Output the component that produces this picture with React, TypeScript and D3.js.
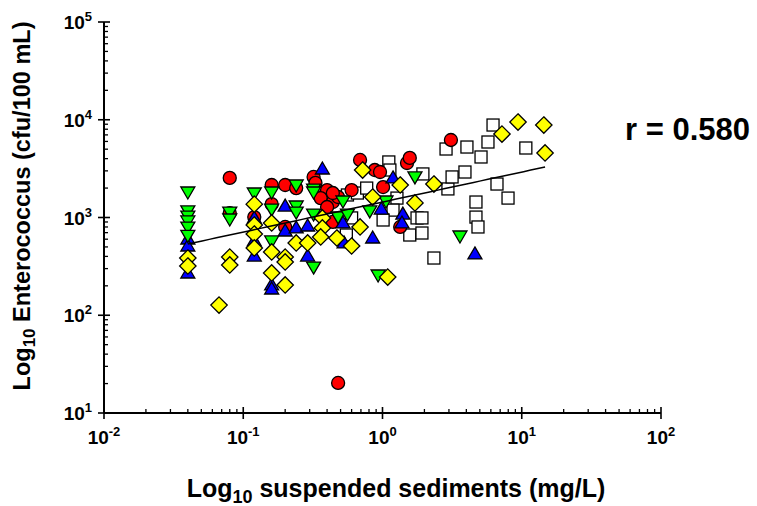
import React from "react";
import * as d3 from "d3";

// ---- data (x: suspended sediments mg/L, y: Enterococcus cfu/100 mL) ----
const squares: [number, number][] = [
  [0.56, 1700], [0.66, 1780], [0.77, 2000], [1.11, 3700], [1.13, 3060], [1.27, 1580],
  [1.19, 1190], [1.01, 943], [0.55, 662], [0.6, 990], [1.77, 990], [1.57, 662],
  [1.92, 694], [1.92, 990], [1.95, 2790], [2.86, 5020], [2.95, 1960], [3.16, 2600],
  [3.91, 2920], [4.04, 5260], [5.72, 5920], [5.1, 4160], [6.22, 8830], [10.7, 5140],
  [6.64, 2200], [7.97, 1580], [4.69, 1440], [4.69, 1010], [4.85, 800], [2.34, 385],
];
const circles: [number, number][] = [
  [0.08, 2540], [0.12, 1010], [0.08, 1110], [0.16, 2150], [0.16, 1370], [0.2, 2150],
  [0.2, 800], [0.24, 2000], [0.32, 2600], [0.33, 2260], [0.37, 1620], [0.4, 1910],
  [0.36, 1580], [0.44, 1440], [0.4, 1280], [0.48, 1620], [0.44, 1780], [0.44, 900],
  [0.6, 1910], [0.69, 3880], [0.88, 3060], [0.96, 2920], [1.01, 2050], [1.34, 800],
  [1.5, 3610], [1.57, 4070], [3.1, 6210], [0.48, 20.3],
];
const upTriangles: [number, number][] = [
  [0.04, 617], [0.04, 523], [0.04, 277], [0.12, 1010], [0.12, 589], [0.12, 413],
  [0.16, 209], [0.16, 190], [0.2, 1340], [0.2, 745], [0.24, 800], [0.29, 838],
  [0.29, 413], [0.37, 3210], [0.52, 900], [0.53, 562], [0.85, 632], [0.98, 1250],
  [1.19, 2600], [1.4, 1110], [1.38, 900], [4.61, 434],
];
const downTriangles: [number, number][] = [
  [0.04, 1780], [0.04, 1140], [0.04, 1010], [0.04, 900], [0.04, 780], [0.04, 640],
  [0.08, 1110], [0.08, 943], [0.12, 1740], [0.16, 1780], [0.16, 1190], [0.16, 562],
  [0.24, 2100], [0.24, 1280], [0.24, 1110], [0.32, 1910], [0.32, 1780], [0.32, 1060],
  [0.32, 304], [0.48, 990], [0.52, 1440], [0.56, 1060], [0.81, 1140], [1.06, 1440],
  [1.71, 2540], [3.6, 632], [0.93, 252],
];
const diamonds: [number, number][] = [
  [0.04, 385], [0.04, 319], [0.067, 127], [0.08, 394], [0.08, 327], [0.12, 1370],
  [0.12, 838], [0.12, 678], [0.12, 488], [0.16, 879], [0.16, 444], [0.16, 271],
  [0.2, 394], [0.2, 351], [0.2, 204], [0.24, 549], [0.29, 549], [0.37, 990],
  [0.37, 781], [0.36, 632], [0.47, 617], [0.6, 511], [0.69, 800], [0.72, 3060],
  [0.85, 1620], [1.34, 2150], [1.71, 1410], [2.34, 2200], [1.09, 246], [7.21, 7140],
  [9.4, 9480], [14.4, 8830], [14.7, 4570],
];

// regression in log10 space: log y = intercept + slope * log x
const fitSlope = 0.307;
const fitIntercept = 3.158;
const fitXRange = [0.04, 14.7];
const rLabel = "r = 0.580";

const xDecades = [-2, -1, 0, 1, 2];
const yDecades = [1, 2, 3, 4, 5];

const W = 757;
const H = 506;
const FONT = "'Liberation Sans', Arial, sans-serif";

export default function App() {
  const x = d3.scaleLog().domain([0.01, 100]).range([104, 661]);
  const y = d3.scaleLog().domain([10, 100000]).range([413, 22]);

  const minorX: number[] = [];
  for (let e = -2; e < 2; e++) for (let m = 2; m <= 9; m++) minorX.push(m * Math.pow(10, e));
  const minorY: number[] = [];
  for (let e = 1; e < 5; e++) for (let m = 2; m <= 9; m++) minorY.push(m * Math.pow(10, e));

  const fitY = (v: number) => Math.pow(10, fitIntercept + fitSlope * Math.log10(v));
  const line = d3
    .line<number>()
    .x((d) => x(d))
    .y((d) => y(fitY(d)));

  const sq = 12;
  const circleR = 6.5;
  const diamondPath = (cx: number, cy: number) => {
    const h = 8.2;
    return `M${cx},${cy - h}L${cx + h},${cy}L${cx},${cy + h}L${cx - h},${cy}Z`;
  };
  const triPath = (cx: number, cy: number, up: boolean) => {
    const hw = 7;
    const hh = 6;
    return up
      ? `M${cx},${cy - hh}L${cx + hw},${cy + hh}L${cx - hw},${cy + hh}Z`
      : `M${cx},${cy + hh}L${cx + hw},${cy - hh}L${cx - hw},${cy - hh}Z`;
  };

  const stroke = "#000";
  const sw = 1.3;

  return (
    <div style={{ position: "fixed", left: 0, top: 0 }}>
      <svg width={W} height={H} style={{ display: "block", background: "#fff" }} fontFamily={FONT}>
        {/* axes */}
        <line x1={104} x2={104} y1={22} y2={413} stroke="#000" strokeWidth={2} />
        <line x1={104} x2={661} y1={413} y2={413} stroke="#000" strokeWidth={2} />
        {xDecades.map((e) => (
          <line key={"xm" + e} x1={x(Math.pow(10, e))} x2={x(Math.pow(10, e))} y1={407} y2={419} stroke="#000" strokeWidth={1.6} />
        ))}
        {minorX.map((v, i) => (
          <line key={"xn" + i} x1={x(v)} x2={x(v)} y1={409} y2={413} stroke="#000" strokeWidth={1.3} />
        ))}
        {yDecades.map((e) => (
          <line key={"ym" + e} x1={98} x2={110} y1={y(Math.pow(10, e))} y2={y(Math.pow(10, e))} stroke="#000" strokeWidth={1.6} />
        ))}
        {minorY.map((v, i) => (
          <line key={"yn" + i} x1={104} x2={108} y1={y(v)} y2={y(v)} stroke="#000" strokeWidth={1.3} />
        ))}
        {/* tick labels */}
        {xDecades.map((e) => (
          <text key={"xl" + e} x={x(Math.pow(10, e))} y={444} textAnchor="middle" fontSize={19} fontWeight="bold">
            <tspan>10</tspan>
            <tspan dy={-8} fontSize={13}>{String(e)}</tspan>
          </text>
        ))}
        {yDecades.map((e) => (
          <text key={"yl" + e} x={92} y={y(Math.pow(10, e)) + 7} textAnchor="end" fontSize={19} fontWeight="bold">
            <tspan>10</tspan>
            <tspan dy={-8} fontSize={13}>{String(e)}</tspan>
          </text>
        ))}
        {/* axis titles */}
        <text x={396} y={497} textAnchor="middle" fontSize={25} fontWeight="bold">
          <tspan>Log</tspan>
          <tspan dy={6} fontSize={18}>10</tspan>
          <tspan dy={-6}> suspended sediments (mg/L)</tspan>
        </text>
        <text transform="translate(30,206) rotate(-90)" textAnchor="middle" fontSize={23.5} fontWeight="bold">
          <tspan>Log</tspan>
          <tspan dy={5} fontSize={17}>10</tspan>
          <tspan dy={-5}> Enterococcus (cfu/100 mL)</tspan>
        </text>
        {/* r label */}
        <text x={625} y={140} fontSize={31} fontWeight="bold">{rLabel}</text>

        {/* data */}
        <g>
          {squares.map(([a, b], i) => (
            <rect key={"s" + i} x={x(a) - sq / 2} y={y(b) - sq / 2} width={sq} height={sq} fill="#fff" stroke={stroke} strokeWidth={sw} />
          ))}
        </g>
        <g>
          {circles.map(([a, b], i) => (
            <circle key={"c" + i} cx={x(a)} cy={y(b)} r={circleR} fill="#ff0000" stroke={stroke} strokeWidth={sw} />
          ))}
        </g>
        <g>
          {upTriangles.map(([a, b], i) => (
            <path key={"u" + i} d={triPath(x(a), y(b), true)} fill="#0000ff" stroke={stroke} strokeWidth={sw} />
          ))}
        </g>
        <g>
          {downTriangles.map(([a, b], i) => (
            <path key={"d" + i} d={triPath(x(a), y(b), false)} fill="#00ff00" stroke={stroke} strokeWidth={sw} />
          ))}
        </g>
        <g>
          {diamonds.map(([a, b], i) => (
            <path key={"m" + i} d={diamondPath(x(a), y(b))} fill="#ffff00" stroke={stroke} strokeWidth={sw} />
          ))}
        </g>
        {/* regression line */}
        <path d={line(d3.range(0, 51).map((i) => fitXRange[0] * Math.pow(fitXRange[1] / fitXRange[0], i / 50))) || ""} fill="none" stroke="#000" strokeWidth={1.5} />
      </svg>
    </div>
  );
}
